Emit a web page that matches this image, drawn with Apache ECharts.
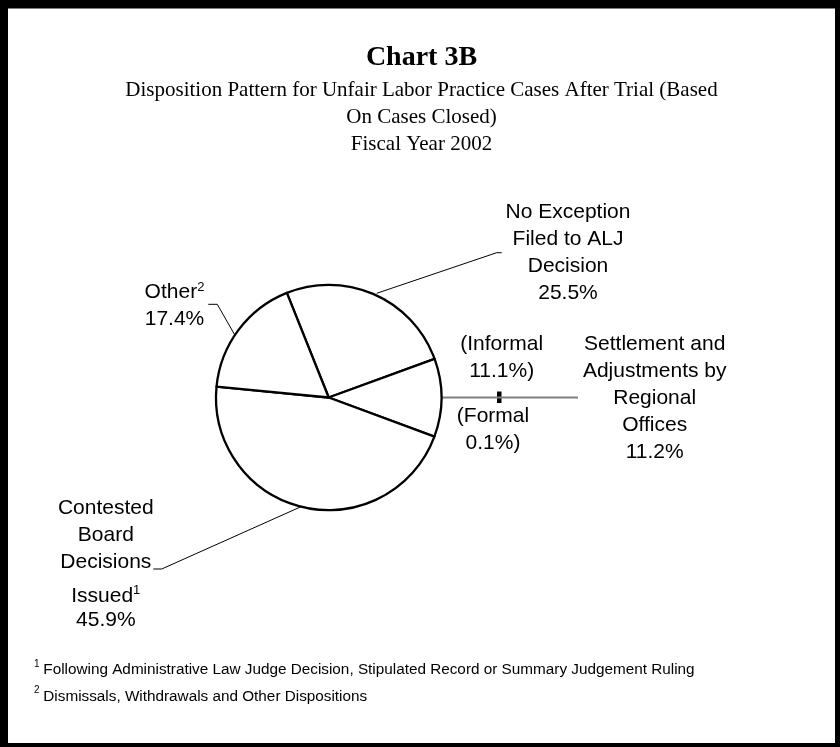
<!DOCTYPE html>
<html>
<head>
<meta charset="utf-8">
<title>Chart 3B</title>
<script src="https://cdn.jsdelivr.net/npm/echarts@6/dist/echarts.min.js"></script>
<style>
  html, body { margin: 0; padding: 0; background: #fff; }
  #chart { width: 840px; height: 747px; }
</style>
</head>
<body>
<div id="chart"></div>
<script>
// Slice order runs clockwise from the top boundary of the "No Exception" slice.
const categories = [
  'No Exception Filed to ALJ Decision',
  'Settlement and Adjustments by Regional Offices',
  'Contested Board Decisions Issued',
  'Other'
];
const shares = [25.5, 11.2, 45.9, 17.4];
const labelLines = [
  ['No Exception', 'Filed to ALJ', 'Decision'],
  ['Settlement and', 'Adjustments by', 'Regional', 'Offices'],
  ['Contested', 'Board', 'Decisions', 'Issued'],
  ['Other']
];
const footnoteMarks = [null, null, '1', '2'];

// Breakdown of the settlement slice
const settlementParts = ['Informal', 'Formal'];
const settlementShares = [11.1, 0.1];

const titleText = 'Chart 3B';
const subtitleLines = [
  'Disposition Pattern for Unfair Labor Practice Cases After Trial (Based',
  'On Cases Closed)',
  'Fiscal Year 2002'
];
const footnotes = [
  ['1', 'Following Administrative Law Judge Decision, Stipulated Record or Summary Judgement Ruling'],
  ['2', 'Dismissals, Withdrawals and Other Dispositions']
];

const SANS = '"Liberation Sans", Arial, sans-serif';
const SERIF = '"Liberation Serif", "Times New Roman", serif';

const CX = 328.7, CY = 397.5, R = 112.7;
const START_ANGLE = 111.8;

// Label anchor (top-centre) and leader-line geometry per slice
const labelAnchors = [
  { x: 568, y: 198.5 },
  { x: 654.7, y: 331 },
  { x: 105.8, y: 494.7 },
  { x: 174.5, y: 279.2 }
];
const leaderPoints = [
  [[376.7, 293.3], [496.7, 252.7], [501.7, 252.7]],
  [[CX + R, CY], [500, CY], [578, CY]],
  [[302.6, 506], [161.7, 569], [153.3, 569]],
  [[236.7, 338.3], [217.3, 304.3], [208.3, 304.3]]
];

function labelText(i) {
  const lines = labelLines[i].map(function (s) { return '{t|' + s + '}'; });
  if (footnoteMarks[i]) {
    const last = lines.length - 1;
    // a line carrying a footnote mark sits a little lower in multi-line labels
    const tall = lines.length > 1;
    lines[last] = '{' + (tall ? 'tt' : 't') + '|' + labelLines[i][last] + '}' +
      '{' + (tall ? 'supt' : 'sup') + '|' + footnoteMarks[i] + '}';
  }
  lines.push('{t|' + shares[i].toFixed(1) + '%}');
  return lines.join('\n');
}

const chart = echarts.init(document.getElementById('chart'), null, { renderer: 'canvas' });

const pieData = categories.map(function (name, i) {
  const item = { name: name, value: shares[i] };
  if (i === 1) {
    item.labelLine = { lineStyle: { color: '#808080', width: 2 } };
  }
  return item;
});

const graphics = [
  // page frame
  { type: 'rect', shape: { x: 0, y: 0, width: 840, height: 8.5 }, style: { fill: '#000' }, silent: true },
  { type: 'rect', shape: { x: 0, y: 0, width: 8, height: 747 }, style: { fill: '#000' }, silent: true },
  { type: 'rect', shape: { x: 835, y: 0, width: 5, height: 747 }, style: { fill: '#000' }, silent: true },
  { type: 'rect', shape: { x: 0, y: 743, width: 840, height: 4 }, style: { fill: '#000' }, silent: true },
  // headings
  {
    type: 'text', x: 421.5, y: 57.8, silent: true,
    style: { text: titleText, font: 'bold 28px ' + SERIF, fill: '#000',
      align: 'center', verticalAlign: 'middle', textAlign: 'center', textVerticalAlign: 'middle' }
  },
  {
    type: 'text', x: 421.5, y: 76.9, silent: true,
    style: { text: subtitleLines.join('\n'), font: '21px ' + SERIF, lineHeight: 27, fill: '#000',
      align: 'center', verticalAlign: 'top', textAlign: 'center', textVerticalAlign: 'top' }
  },
  // settlement breakdown notes
  {
    type: 'text', x: 501.7, y: 330.9, silent: true,
    style: { text: '(' + settlementParts[0] + '\n' + settlementShares[0].toFixed(1) + '%)',
      font: '21px ' + SANS, lineHeight: 27, fill: '#000',
      align: 'center', verticalAlign: 'top', textAlign: 'center', textVerticalAlign: 'top' }
  },
  {
    type: 'text', x: 493, y: 403.2, silent: true,
    style: { text: '(' + settlementParts[1] + '\n' + settlementShares[1].toFixed(1) + '%)',
      font: '21px ' + SANS, lineHeight: 27, fill: '#000',
      align: 'center', verticalAlign: 'top', textAlign: 'center', textVerticalAlign: 'top' }
  },
  // tiny formal wedge marker on the leader line
  { type: 'rect', shape: { x: 497, y: 391.5, width: 4.5, height: 11.5 }, style: { fill: '#000' }, silent: true }
];

// footnotes
footnotes.forEach(function (fn, k) {
  const base = 675.3 + k * 26.5;
  graphics.push({
    type: 'text', x: 34, y: base - 11.5, silent: true,
    style: { text: fn[0], font: '10px ' + SANS, fill: '#000',
      align: 'left', verticalAlign: 'middle', textAlign: 'left', textVerticalAlign: 'middle' }
  });
  graphics.push({
    type: 'text', x: 43.3, y: base - 5.3, silent: true,
    style: { text: fn[1], font: '15.3px ' + SANS, fill: '#000',
      align: 'left', verticalAlign: 'middle', textAlign: 'left', textVerticalAlign: 'middle' }
  });
});

chart.setOption({
  animation: false,
  backgroundColor: '#fff',
  graphic: { elements: graphics },
  series: [{
    type: 'pie',
    center: [CX, CY],
    radius: R,
    startAngle: START_ANGLE,
    clockwise: true,
    avoidLabelOverlap: false,
    silent: true,
    emphasis: { disabled: true },
    itemStyle: { color: '#fff', borderColor: '#000', borderWidth: 2.3 },
    label: {
      show: true,
      position: 'outside',
      formatter: function (p) { return labelText(p.dataIndex); },
      color: '#000',
      fontFamily: SANS,
      fontSize: 21,
      lineHeight: 27,
      rich: {
        t: { fontFamily: SANS, fontSize: 21, lineHeight: 27, color: '#000' },
        tt: { fontFamily: SANS, fontSize: 21, lineHeight: 31, verticalAlign: 'bottom', color: '#000' },
        sup: { fontFamily: SANS, fontSize: 13, verticalAlign: 'top', padding: [2, 0, 0, 0], color: '#000' },
        supt: { fontFamily: SANS, fontSize: 13, verticalAlign: 'top', padding: [8.5, 0, 0, 0], color: '#000' }
      }
    },
    labelLine: { show: true, smooth: false, lineStyle: { color: '#000', width: 1 } },
    labelLayout: function (params) {
      const i = params.dataIndex;
      return {
        x: labelAnchors[i].x,
        y: labelAnchors[i].y,
        align: 'center',
        verticalAlign: 'top',
        labelLinePoints: leaderPoints[i]
      };
    },
    data: pieData
  }]
});
</script>
</body>
</html>
